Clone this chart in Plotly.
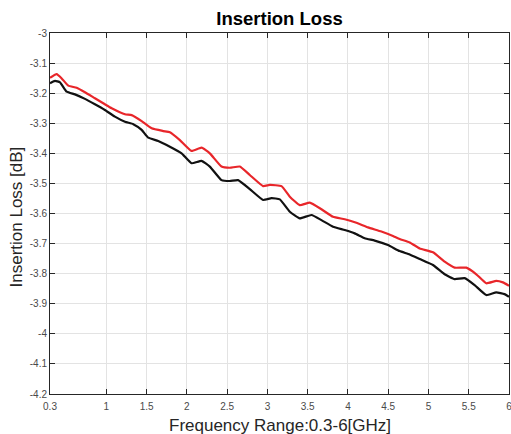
import plotly.graph_objects as go

# Frequency (GHz) sample points
freq_red = [0.300, 0.383, 0.445, 0.527, 0.631, 0.734, 0.858, 0.982, 1.066, 1.231,
            1.314, 1.438, 1.562, 1.706, 1.789, 1.913, 2.058, 2.182, 2.285, 2.430,
            2.533, 2.657, 2.781, 2.946, 3.030, 3.175, 3.278, 3.402, 3.526, 3.671,
            3.815, 3.960, 4.105, 4.249, 4.415, 4.559, 4.642, 4.767, 4.891, 5.056,
            5.201, 5.325, 5.470, 5.594, 5.718, 5.842, 5.924, 6.000]
loss_red = [-3.149, -3.137, -3.151, -3.175, -3.182, -3.197, -3.217, -3.237, -3.250, -3.270,
            -3.273, -3.293, -3.317, -3.326, -3.330, -3.356, -3.392, -3.381, -3.400, -3.444,
            -3.448, -3.444, -3.472, -3.509, -3.505, -3.509, -3.544, -3.572, -3.564, -3.586,
            -3.611, -3.619, -3.631, -3.646, -3.660, -3.675, -3.685, -3.696, -3.716, -3.729,
            -3.760, -3.780, -3.780, -3.802, -3.832, -3.824, -3.829, -3.840]

freq_black = [0.300, 0.362, 0.424, 0.507, 0.610, 0.734, 0.858, 0.982, 1.106, 1.231,
              1.334, 1.438, 1.520, 1.644, 1.789, 1.934, 2.058, 2.182, 2.285, 2.430,
              2.533, 2.636, 2.781, 2.946, 3.051, 3.154, 3.278, 3.402, 3.547, 3.671,
              3.815, 3.960, 4.084, 4.208, 4.332, 4.497, 4.642, 4.767, 4.891, 5.056,
              5.201, 5.325, 5.449, 5.573, 5.718, 5.842, 5.945, 6.000]
loss_black = [-3.167, -3.159, -3.164, -3.195, -3.204, -3.219, -3.237, -3.256, -3.278, -3.295,
              -3.303, -3.322, -3.348, -3.359, -3.378, -3.400, -3.433, -3.425, -3.444, -3.489,
              -3.492, -3.489, -3.519, -3.555, -3.549, -3.553, -3.594, -3.616, -3.605, -3.622,
              -3.644, -3.655, -3.666, -3.682, -3.690, -3.705, -3.725, -3.736, -3.751, -3.771,
              -3.802, -3.818, -3.815, -3.838, -3.871, -3.862, -3.868, -3.877]

x_tickvals = [0.3, 1, 1.5, 2, 2.5, 3, 3.5, 4, 4.5, 5, 5.5, 6]
x_ticktext = ["0.3", "1", "1.5", "2", "2.5", "3", "3.5", "4", "4.5", "5", "5.5", "6"]
y_tickvals = [-3, -3.1, -3.2, -3.3, -3.4, -3.5, -3.6, -3.7, -3.8, -3.9, -4, -4.1, -4.2]
y_ticktext = ["-3", "-3.1", "-3.2", "-3.3", "-3.4", "-3.5", "-3.6", "-3.7", "-3.8",
              "-3.9", "-4", "-4.1", "-4.2"]

FONT = "Liberation Sans, Arial, sans-serif"

fig = go.Figure()
fig.add_trace(go.Scatter(x=freq_red, y=loss_red, mode="lines",
                         line=dict(color="#e8262a", width=2.2, shape="spline", smoothing=0.4),
                         showlegend=False))
fig.add_trace(go.Scatter(x=freq_black, y=loss_black, mode="lines",
                         line=dict(color="#111111", width=2.2, shape="spline", smoothing=0.4),
                         showlegend=False))

axis_common = dict(showline=True, linecolor="#262626", linewidth=1, mirror="ticks",
                   ticks="inside", ticklen=5, tickcolor="#262626",
                   showgrid=True, gridcolor="#e3e3e3", gridwidth=1, zeroline=False,
                   ticklabeloverflow="allow",
                   tickfont=dict(family=FONT, size=10, color="#4a4a4a"), automargin=False)

fig.update_xaxes(range=[0.3, 6], tickmode="array", tickvals=x_tickvals, ticktext=x_ticktext,
                 ticklabelstandoff=3, **axis_common)
fig.update_yaxes(range=[-4.2, -3], tickmode="array", tickvals=y_tickvals, ticktext=y_ticktext,
                 **axis_common)

fig.update_layout(
    width=511, height=434,
    margin=dict(l=50, r=2, t=33, b=40),
    paper_bgcolor="white", plot_bgcolor="white",
    title=dict(text="<b>Insertion Loss</b>", x=0.5, xref="paper", xanchor="center",
               y=1 - 19 / 434, yref="container", yanchor="middle",
               font=dict(family=FONT, size=18.5, color="#000000")),
    annotations=[
        dict(text="Frequency Range:0.3-6[GHz]", xref="paper", yref="paper", x=0.5, y=0,
             xanchor="center", yanchor="middle", yshift=-31, showarrow=False,
             font=dict(family=FONT, size=17, color="#262626")),
        dict(text="Insertion Loss [dB]", xref="paper", yref="paper", x=0, y=0.5,
             xanchor="center", yanchor="middle", xshift=-34, yshift=-4, textangle=-90,
             showarrow=False, font=dict(family=FONT, size=17, color="#262626")),
    ],
)

fig.write_html("out.html", config={"displayModeBar": False},
               post_script="document.body.style.margin='0';document.body.style.overflow='hidden';")
